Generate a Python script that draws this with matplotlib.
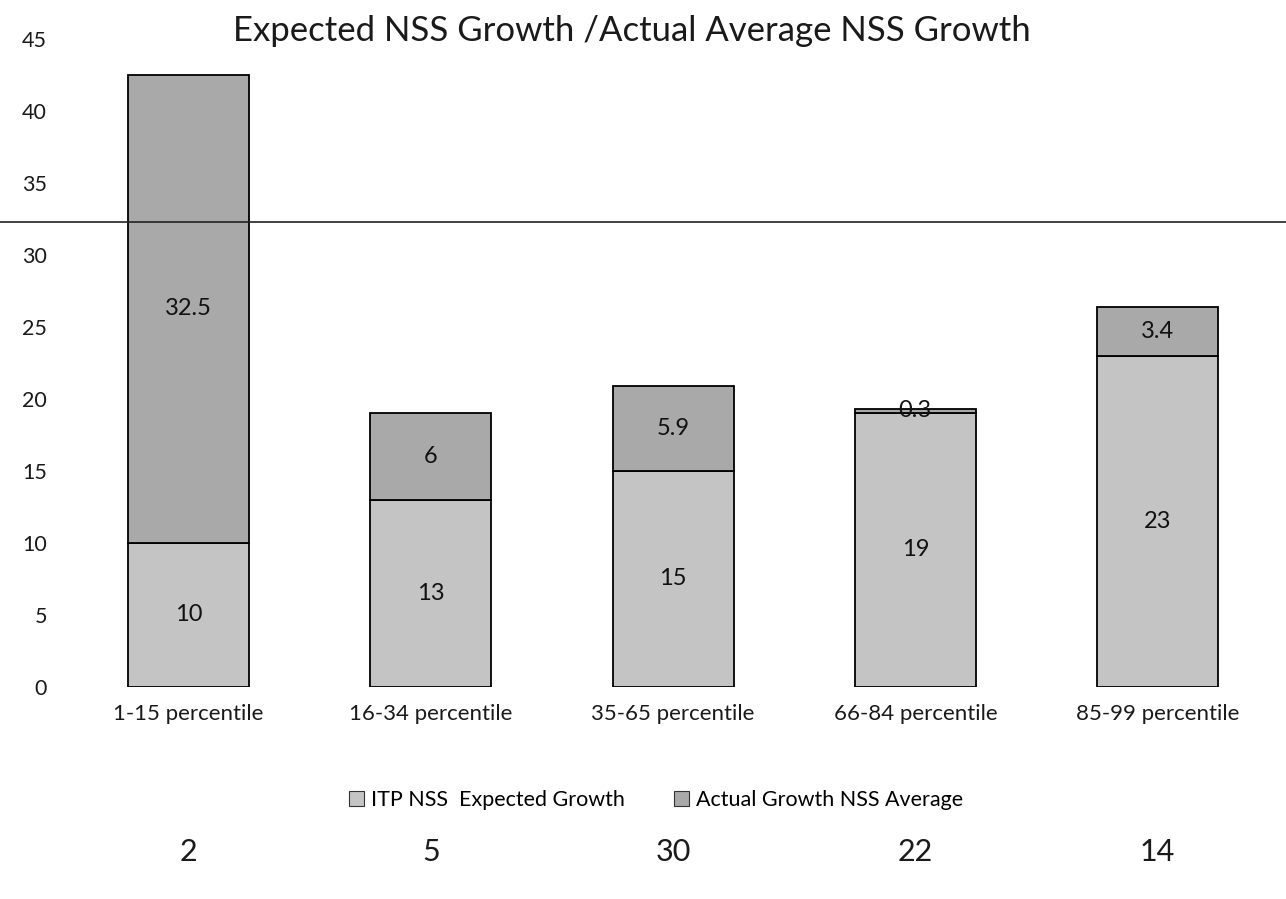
import matplotlib
matplotlib.use("Agg")
import matplotlib.pyplot as plt
import matplotlib.transforms as mtransforms
from matplotlib.lines import Line2D
from matplotlib.patches import Patch

plt.rcParams['font.family'] = ['Lato', 'DejaVu Sans']

# ---- data ----
categories = ["1-15 percentile", "16-34 percentile", "35-65 percentile",
              "66-84 percentile", "85-99 percentile"]
expected_growth = [10, 13, 15, 19, 23]
actual_growth = [32.5, 6, 5.9, 0.3, 3.4]
expected_labels = ["10", "13", "15", "19", "23"]
actual_labels = ["32.5", "6", "5.9", "0.3", "3.4"]
counts = ["2", "5", "30", "22", "14"]
reference_line = 32.3
y_ticks = [0, 5, 10, 15, 20, 25, 30, 35, 40, 45]
series_names = ["ITP NSS  Expected Growth", "Actual Growth NSS Average"]
title = "Expected NSS Growth /Actual Average NSS Growth"

fig = plt.figure(figsize=(12.86, 8.99), dpi=100)
ax = fig.add_axes([0.043, 0.236, 0.957, 0.721])

x = list(range(len(categories)))
c_low = "#c4c4c4"
c_high = "#a9a9a9"
width = 0.5
ax.bar(x, expected_growth, width=width, color=c_low, edgecolor="black", linewidth=1.3)
ax.bar(x, actual_growth, width=width, bottom=expected_growth, color=c_high,
       edgecolor="black", linewidth=1.3)

for xi, v, lab in zip(x, expected_growth, expected_labels):
    ax.text(xi, v / 2, lab, ha="center", va="center", fontsize=17, color="#111111")
for xi, base, v, lab in zip(x, expected_growth, actual_growth, actual_labels):
    ax.text(xi, base + v / 2, lab, ha="center", va="center", fontsize=17, color="#111111")

ax.set_xlim(-0.55, 4.53)
ax.set_ylim(0, 45)
ax.set_yticks(y_ticks)
ax.set_yticklabels([str(t) for t in y_ticks], fontsize=15.5, color="#1a1a1a")
ax.set_xticks(x)
ax.set_xticklabels(categories, fontsize=16, color="#1a1a1a")
ax.tick_params(axis="both", length=0)
ax.tick_params(axis="y", pad=6)
ax.tick_params(axis="x", pad=12)
for s in ax.spines.values():
    s.set_visible(False)

# figure-wide reference line
trans = mtransforms.blended_transform_factory(fig.transFigure, ax.transData)
fig.add_artist(Line2D([0, 1], [reference_line, reference_line], transform=trans,
                      color="#222222", linewidth=1.2))

fig.text(0.491, 0.966, title, ha="center", va="center", fontsize=25, color="#1a1a1a")

handles = [Patch(facecolor=c_low, edgecolor="#333333", linewidth=0.8),
           Patch(facecolor=c_high, edgecolor="#333333", linewidth=0.8)]
fig.legend(handles, series_names, loc="center", bbox_to_anchor=(0.51, 0.11),
           ncol=2, frameon=False, fontsize=15.5, handlelength=0.7, handleheight=0.7,
           handletextpad=0.3, columnspacing=2.3)

trans2 = mtransforms.blended_transform_factory(ax.transData, fig.transFigure)
for xi, c in zip(x, counts):
    ax.text(xi, 0.052, c, transform=trans2, ha="center", va="center",
            fontsize=22, color="#1a1a1a")

fig.savefig("out.png", dpi=100)
